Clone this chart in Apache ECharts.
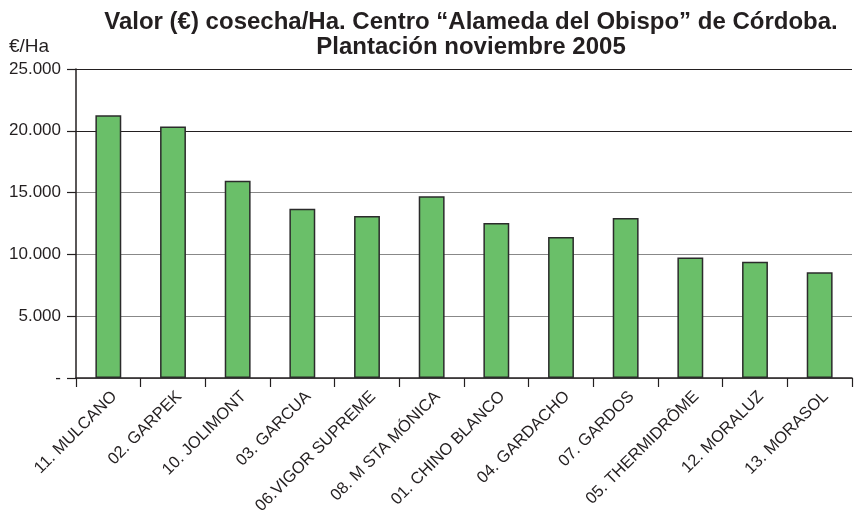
<!DOCTYPE html>
<html>
<head>
<meta charset="utf-8">
<script src="https://cdn.jsdelivr.net/npm/echarts@6/dist/echarts.min.js"></script>
<style>html,body{margin:0;padding:0;background:#fff}#c{width:854px;height:521px}</style>
</head>
<body>
<div id="c"></div>
<script>
const titleLines = ['Valor (€) cosecha/Ha. Centro “Alameda del Obispo” de Córdoba.', 'Plantación noviembre 2005'];
const unitLabel = '€/Ha';
const categories = ['11. MULCANO', '02. GARPEK', '10. JOLIMONT', '03. GARCUA', '06.VIGOR SUPREME', '08. M STA MÓNICA', '01. CHINO BLANCO', '04. GARDACHO', '07. GARDOS', '05. THERMIDRÔME', '12. MORALUZ', '13. MORASOL'];
const values = [21250, 20350, 15950, 13700, 13100, 14700, 12550, 11400, 12950, 9750, 9400, 8550];
const yMin = 0, yMax = 25000, yStep = 5000;

function fmt(v) {
  if (v === 0) return '-';
  return String(v).replace(/\B(?=(\d{3})+(?!\d))/g, '.');
}

const chart = echarts.init(document.getElementById('c'), null, {renderer: 'canvas'});
chart.setOption({
  animation: false,
  backgroundColor: '#fff',
  title: {
    text: titleLines.join('\n'),
    left: 466, top: 5, textAlign: 'center',
    textStyle: {fontFamily: 'Liberation Sans', fontWeight: 'bold', fontSize: 24, lineHeight: 25, color: '#231f20'}
  },
  graphic: [{
    type: 'text', left: 9, top: 37,
    style: {text: unitLabel, fontFamily: 'Liberation Sans', fontSize: 19, fill: '#231f20'}
  }],
  grid: {left: 76, right: 2, top: 69, bottom: 143, containLabel: false},
  xAxis: {
    type: 'category', data: categories,
    axisLine: {lineStyle: {color: '#231f20', width: 1.5}},
    axisTick: {show: true, length: 9, inside: false, alignWithLabel: false, lineStyle: {color: '#231f20', width: 1.2}},
    axisLabel: {interval: 0, rotate: 45, margin: 10, verticalAlign: 'top', fontFamily: 'Liberation Sans', fontSize: 16.5, color: '#231f20'}
  },
  yAxis: {
    type: 'value', min: yMin, max: yMax, interval: yStep,
    axisLine: {show: true, lineStyle: {color: '#231f20', width: 1.5}},
    axisTick: {show: true, length: 9, lineStyle: {color: '#231f20', width: 1.2}},
    splitLine: {show: true, lineStyle: {color: ['#888', '#888', '#888', '#888', '#231f20', '#231f20'], width: 1.2}},
    axisLabel: {formatter: fmt, margin: 15, fontFamily: 'Liberation Sans', fontSize: 17, color: '#231f20'}
  },
  series: [{
    type: 'bar', data: values, barWidth: '40%',
    itemStyle: {color: '#6abf69', borderColor: '#2b2b2b', borderWidth: 1.5}
  }]
});
</script>
</body>
</html>
